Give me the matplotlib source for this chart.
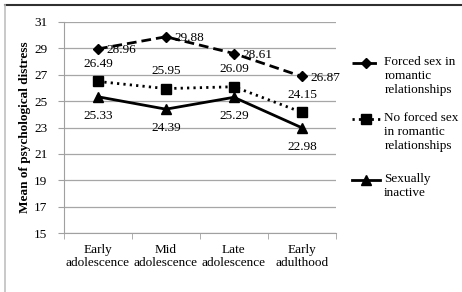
import matplotlib.pyplot as plt
import numpy as np

# data
stages = ['Early\nadolescence', 'Mid\nadolescence', 'Late\nadolescence', 'Early\nadulthood']
forced = [28.96, 29.88, 28.61, 26.87]
no_forced = [26.49, 25.95, 26.09, 24.15]
inactive = [25.33, 24.39, 25.29, 22.98]
y_ticks = [15, 17, 19, 21, 23, 25, 27, 29, 31]
legend_labels = ['Forced sex in\nromantic\nrelationships',
                 'No forced sex\nin romantic\nrelationships',
                 'Sexually\ninactive']

plt.rcParams['font.family'] = ['Liberation Serif', 'DejaVu Serif']

fig = plt.figure(figsize=(4.62, 2.92), dpi=100)
ax = fig.add_axes([0.1385, 0.202, 0.5885, 0.7227])

styles = [dict(ls=(0, (3.5, 1.8)), marker='D', ms=5.5),
          dict(ls=(0, (0.8, 1.5)), marker='s', ms=6.5),
          dict(ls='-', marker='^', ms=6.5)]

x = np.arange(len(stages))
for vals, st in zip([forced, no_forced, inactive], styles):
    ax.plot(x, vals, color='black', lw=2, zorder=3, **st)

# data labels
for xi, v in zip(x, forced):
    ax.annotate(f'{v:.2f}', (xi, v), xytext=(6, -1), textcoords='offset points',
                ha='left', va='center', fontsize=9.5)
for xi, v in zip(x, no_forced):
    ax.annotate(f'{v:.2f}', (xi, v), xytext=(0, 8.5), textcoords='offset points',
                ha='center', va='bottom', fontsize=9.5)
for xi, v in zip(x, inactive):
    ax.annotate(f'{v:.2f}', (xi, v), xytext=(0, -9.5), textcoords='offset points',
                ha='center', va='top', fontsize=9.5)

ax.set_xlim(-0.5, 3.5)
ax.set_ylim(15, 31)
ax.set_yticks(y_ticks)
ax.set_xticks(x)
ax.set_xticklabels(stages, fontsize=9.5, linespacing=1.15)
ax.set_xticks(np.arange(-0.5, 4, 1), minor=True)
ax.tick_params(axis='x', which='major', length=0, pad=8)
ax.tick_params(axis='x', which='minor', length=4, color='#a0a0a0', direction='out')
ax.tick_params(axis='y', length=4, color='#a0a0a0', labelsize=9.5, pad=8)
ax.grid(axis='y', color='#a6a6a6', lw=0.9)
ax.set_axisbelow(True)
ax.spines['right'].set_color('none')
ax.spines['top'].set_color('none')
ax.spines['left'].set_color('#a0a0a0')
ax.spines['bottom'].set_color('#a0a0a0')
ax.set_ylabel('Mean of psychological distress', fontsize=9.5, fontweight='bold', labelpad=2)

# legend, drawn by hand so the key sits on the first text line (Excel style)
leg_y = [0.806, 0.540, 0.251]
for ly, st, lab in zip(leg_y, styles, legend_labels):
    ax.plot([1.059, 1.162], [ly, ly], color='black', lw=2, ls=st['ls'],
            transform=ax.transAxes, clip_on=False)
    ax.plot([1.1105], [ly], color='black', marker=st['marker'], ms=st['ms'],
            transform=ax.transAxes, clip_on=False)
    ax.text(1.178, ly + 0.035, lab, transform=ax.transAxes, ha='left', va='top',
            fontsize=9.5, linespacing=1.25)

# outer frame (top and left only, image is cropped)
fig.add_artist(plt.Line2D([5 / 462, 1], [1 - 5 / 292, 1 - 5 / 292], color='#303030', lw=1.5,
                          transform=fig.transFigure))
fig.add_artist(plt.Line2D([5 / 462, 5 / 462], [0, 1 - 5 / 292], color='#c0c0c0', lw=1.2,
                          transform=fig.transFigure))

fig.savefig('out.png', dpi=100)
